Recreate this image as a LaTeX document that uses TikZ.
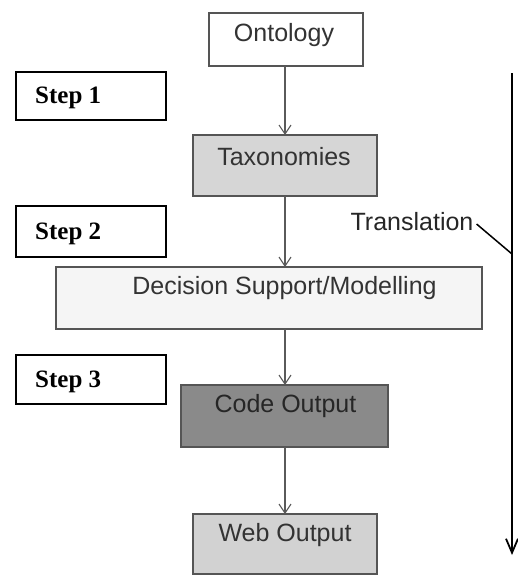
\documentclass[tikz,border=0pt]{standalone}
\usepackage{fontspec}
\setmainfont{Liberation Sans}
\newfontfamily\stepfont{Liberation Serif}
\usetikzlibrary{arrows.meta}
\definecolor{boxline}{HTML}{555555}
\definecolor{arrowgray}{HTML}{5A5A5A}
\definecolor{txtgray}{HTML}{333333}
\definecolor{taxfill}{HTML}{D6D6D6}
\definecolor{decfill}{HTML}{F5F5F5}
\definecolor{codefill}{HTML}{8A8A8A}
\definecolor{webfill}{HTML}{D2D2D2}
\tikzset{
  x=1pt, y=1pt,
  flowbox/.style={draw=boxline, line width=1.2pt, inner sep=0pt, outer sep=0pt},
  stepbox/.style={draw=black, line width=1.3pt, minimum width=150pt, inner sep=0pt, outer sep=0pt},
  boxtext/.style={font=\fontsize{25}{29}\selectfont, text=txtgray, inner sep=0pt},
  steptext/.style={font=\stepfont\bfseries\fontsize{25}{29}\selectfont, text=black, inner sep=0pt, anchor=west},
  flowarrow/.style={draw=arrowgray, line width=1.2pt, -{Straight Barb[length=9pt,width=12pt,line width=1.1pt]}},
}
\begin{document}
\begin{tikzpicture}
\useasboundingbox (0,0) rectangle (518,-576);
% flow boxes
\node[flowbox, fill=white, minimum width=154pt, minimum height=53pt] (ont) at (286,-39.5) {};
\node[boxtext] (tont) at (284,-35) {Ontology};
\node[flowbox, fill=taxfill, minimum width=184pt, minimum height=61pt] (tax) at (285,-165.5) {};
\node[boxtext] (ttax) at (284,-157) {Taxonomies};
\node[flowbox, fill=decfill, minimum width=426pt, minimum height=62pt] (dec) at (269,-298) {};
\node[boxtext] (tdec) at (284.5,-288) {Decision Support/Modelling};
\node[flowbox, fill=codefill, minimum width=207pt, minimum height=62pt] (code) at (284.5,-416) {};
\node[boxtext, text=black!85] (tcode) at (285.5,-406) {Code Output};
\node[flowbox, fill=webfill, minimum width=184pt, minimum height=60pt] (web) at (285,-544) {};
\node[boxtext] (tweb) at (285,-535) {Web Output};
% step boxes
\node[stepbox, minimum height=48pt] (s1) at (91,-96) {};
\node[steptext] (ts1) at (35,-98) {Step 1};
\node[stepbox, minimum height=51pt] (s2) at (91,-231.5) {};
\node[steptext] (ts2) at (35,-234) {Step 2};
\node[stepbox, minimum height=49pt] (s3) at (91,-379.5) {};
\node[steptext] (ts3) at (35,-382) {Step 3};
% arrows
\draw[flowarrow] (ont.south -| 285,0) -- (tax.north -| 285,0);
\draw[flowarrow] (tax.south -| 285,0) -- (dec.north -| 285,0);
\draw[flowarrow] (dec.south -| 285,0) -- (code.north -| 285,0);
\draw[flowarrow] (code.south -| 285,0) -- (web.north -| 285,0);
% translation line
\coordinate (ltop) at (512,-73);
\coordinate (lbot) at (512,-555);
\coordinate (lmid) at (512,-254);
\draw[black, line width=2.8pt, -{Straight Barb[length=14pt,width=12pt,line width=1.8pt]}] (ltop) -- (lbot);
\node[boxtext, text=black!85] (trans) at (412,-222) {Translation};
\draw[black, line width=1.5pt] ([xshift=3pt,yshift=-2pt]trans.east) -- (lmid);
\end{tikzpicture}
\end{document}
